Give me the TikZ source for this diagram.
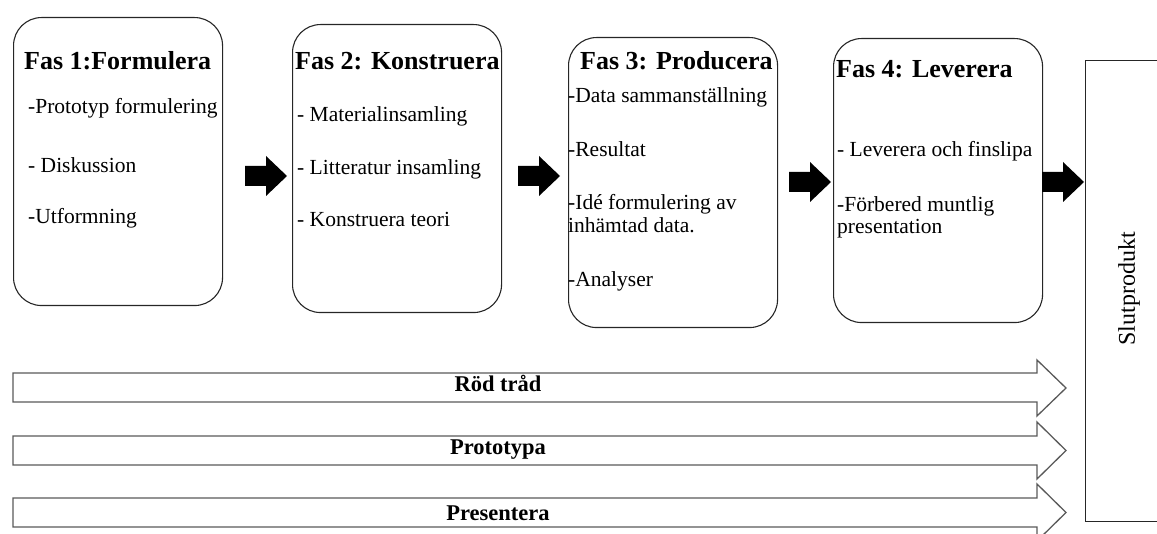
\documentclass[tikz,border=0pt]{standalone}
\usepackage{fontspec}
\setmainfont{Liberation Serif}
\begin{document}
\begin{tikzpicture}[x=1pt,y=-1pt,
  phase/.style={draw=black!85, line width=1.1pt, rounded corners=28pt, anchor=north west, inner sep=0pt, minimum width=209pt, minimum height=#1},
  ttl/.style={anchor=base west, inner sep=0pt, font=\fontsize{26}{30}\selectfont\bfseries},
  itm/.style={anchor=base west, inner sep=0pt, font=\fontsize{21.5}{23}\selectfont},
  hollow/.style={draw=black!65, line width=1.3pt, line join=miter},
  lbl/.style={anchor=base, inner sep=0pt, font=\fontsize{22.5}{26}\selectfont\bfseries},
  blk/.pic={\fill[black] (0,-10) -- (21,-10) -- (21,-20) -- (42,0) -- (21,20) -- (21,10) -- (0,10) -- cycle;}
]
\useasboundingbox (0,0) rectangle (1157,534);
\clip (0,0) rectangle (1157,534);

% phase boxes
\node[phase=288pt] (b1) at (13,17) {};
\node[phase=288pt] (b2) at (292,24) {};
\node[phase=290pt] (b3) at (568,37) {};
\node[phase=284pt] (b4) at (833,38) {};

% final product box
\node[draw=black!85, line width=1.1pt, anchor=north west, inner sep=0pt, minimum width=90pt, minimum height=461pt] (sp) at (1085,60) {};
\node[rotate=90, inner sep=0pt, font=\fontsize{24}{26}\selectfont] (spt) at (1129,289) {Slutprodukt};

% texts box 1
\node[ttl] (t1) at (24,70) {Fas 1:Formulera};
\node[itm] (i1a) at (28,114) {-Prototyp formulering};
\node[itm] (i1b) at (28,173) {- Diskussion};
\node[itm] (i1c) at (28,224) {-Utformning};

% texts box 2
\node[ttl] (t2) at (295,70) {Fas 2: Konstruera};
\node[itm] (i2a) at (297,122) {- Materialinsamling};
\node[itm] (i2b) at (297,175) {- Litteratur insamling};
\node[itm] (i2c) at (297,227) {- Konstruera teori};

% texts box 3
\node[ttl] (t3) at (580,70) {Fas 3: Producera};
\node[itm] (i3a) at (568,103) {-Data sammanställning};
\node[itm] (i3b) at (568,157) {-Resultat};
\node[itm] (i3c) at (568,210) {-Idé formulering av};
\node[itm] (i3d) at (568,233) {inhämtad data.};
\node[itm] (i3e) at (568,287) {-Analyser};

% texts box 4
\node[ttl] (t4) at (836,78) {Fas 4: Leverera};
\node[itm] (i4a) at (837,157) {- Leverera och finslipa};
\node[itm] (i4b) at (837,212) {-Förbered muntlig};
\node[itm] (i4c) at (837,234) {presentation};

% black block arrows between phases
\pic at (245,176) {blk};
\pic at (518,176) {blk};
\pic at (789,182) {blk};
\pic at (1042,182) {blk};

% hollow long arrows
\draw[hollow] (13,373) -- (1037,373) -- (1037,360) -- (1066,388) -- (1037,416) -- (1037,402) -- (13,402) -- cycle;
\draw[hollow] (13,436) -- (1037,436) -- (1037,422) -- (1066,450.5) -- (1037,479) -- (1037,465) -- (13,465) -- cycle;
\draw[hollow] (13,498) -- (1037,498) -- (1037,484) -- (1066,512.5) -- (1037,541) -- (1037,527) -- (13,527) -- cycle;

\node[lbl] (l1) at (498,392) {Röd tråd};
\node[lbl] (l2) at (498,455) {Prototypa};
\node[lbl] (l3) at (498,520) {Presentera};
\end{tikzpicture}
\end{document}
